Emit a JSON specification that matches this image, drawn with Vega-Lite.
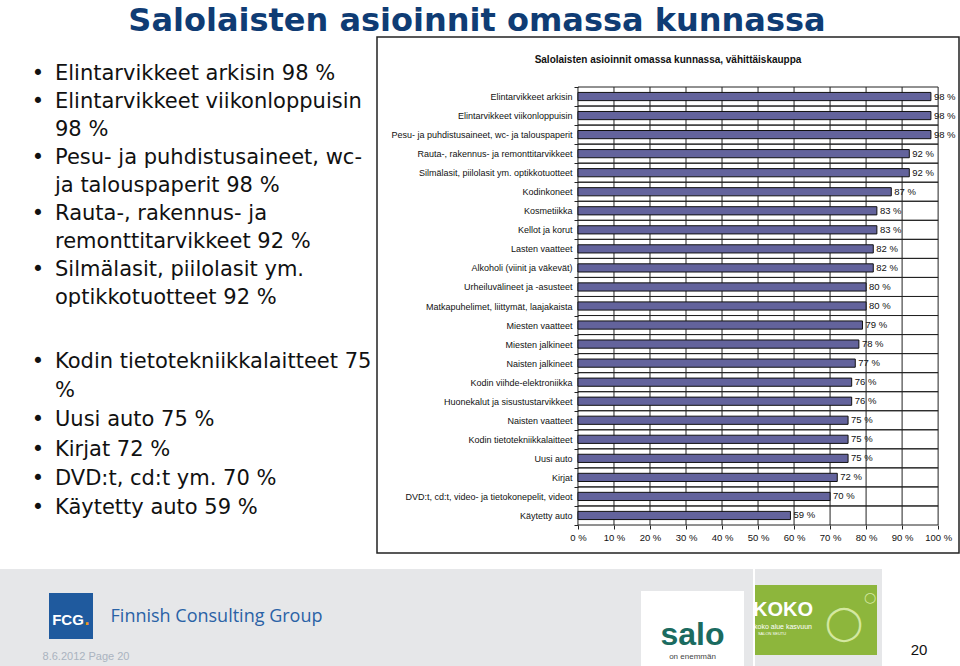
{
  "$schema": "https://vega.github.io/schema/vega-lite/v6.json",
  "padding": {"top": 5, "left": 0, "right": 0, "bottom": 0},
  "background": "white",
  "title": {"text": "Salolaisten asioinnit omassa kunnassa", "font": "DejaVu Sans", "fontSize": 32, "fontWeight": "bold", "color": "#0f3c74", "anchor": "middle", "dx": -4, "offset": -6},
  "config": {
    "view": {"stroke": null},
    "locale": {"number": {"decimal": ",", "thousands": " ", "grouping": [3], "currency": ["", " €"], "percent": " %"}}
  },
  "datasets": {
    "ostokset": [
      {"tuoteryhma": "Elintarvikkeet arkisin", "osuus": 0.98},
      {"tuoteryhma": "Elintarvikkeet viikonloppuisin", "osuus": 0.98},
      {"tuoteryhma": "Pesu- ja puhdistusaineet, wc- ja talouspaperit", "osuus": 0.98},
      {"tuoteryhma": "Rauta-, rakennus- ja remonttitarvikkeet", "osuus": 0.92},
      {"tuoteryhma": "Silmälasit, piilolasit ym. optikkotuotteet", "osuus": 0.92},
      {"tuoteryhma": "Kodinkoneet", "osuus": 0.87},
      {"tuoteryhma": "Kosmetiikka", "osuus": 0.83},
      {"tuoteryhma": "Kellot ja korut", "osuus": 0.83},
      {"tuoteryhma": "Lasten vaatteet", "osuus": 0.82},
      {"tuoteryhma": "Alkoholi (viinit ja väkevät)", "osuus": 0.82},
      {"tuoteryhma": "Urheiluvälineet ja -asusteet", "osuus": 0.80},
      {"tuoteryhma": "Matkapuhelimet, liittymät, laajakaista", "osuus": 0.80},
      {"tuoteryhma": "Miesten vaatteet", "osuus": 0.79},
      {"tuoteryhma": "Miesten jalkineet", "osuus": 0.78},
      {"tuoteryhma": "Naisten jalkineet", "osuus": 0.77},
      {"tuoteryhma": "Kodin viihde-elektroniikka", "osuus": 0.76},
      {"tuoteryhma": "Huonekalut ja sisustustarvikkeet", "osuus": 0.76},
      {"tuoteryhma": "Naisten vaatteet", "osuus": 0.75},
      {"tuoteryhma": "Kodin tietotekniikkalaitteet", "osuus": 0.75},
      {"tuoteryhma": "Uusi auto", "osuus": 0.75},
      {"tuoteryhma": "Kirjat", "osuus": 0.72},
      {"tuoteryhma": "DVD:t, cd:t, video- ja tietokonepelit, videot", "osuus": 0.70},
      {"tuoteryhma": "Käytetty auto", "osuus": 0.59}
    ],
    "ruudukko": [
      {"osuus": 0}, {"osuus": 0.1}, {"osuus": 0.2}, {"osuus": 0.3}, {"osuus": 0.4}, {"osuus": 0.5},
      {"osuus": 0.6}, {"osuus": 0.7}, {"osuus": 0.8}, {"osuus": 0.9}, {"osuus": 1}
    ]
  },
  "spacing": 15,
  "vconcat": [
    {
      "spacing": 0,
      "hconcat": [
        {
          "spacing": 0,
          "vconcat": [
            {
              "width": 376,
              "height": 270,
              "data": {"values": [
                {"rivi": "Elintarvikkeet arkisin 98 %", "luetelma": true},
                {"rivi": "Elintarvikkeet viikonloppuisin", "luetelma": true},
                {"rivi": "98 %", "luetelma": false},
                {"rivi": "Pesu- ja puhdistusaineet, wc-", "luetelma": true},
                {"rivi": "ja talouspaperit 98 %", "luetelma": false},
                {"rivi": "Rauta-, rakennus- ja", "luetelma": true},
                {"rivi": "remonttitarvikkeet 92 %", "luetelma": false},
                {"rivi": "Silmälasit, piilolasit ym.", "luetelma": true},
                {"rivi": "optikkotuotteet 92 %", "luetelma": false}
              ]},
              "layer": [
                {
                  "mark": {"type": "text", "align": "left", "baseline": "middle", "dx": -133, "font": "DejaVu Sans", "fontSize": 21, "color": "#111", "clip": true},
                  "encoding": {
                    "y": {"field": "rivi", "type": "nominal", "sort": null, "scale": {"type": "point", "padding": 0, "range": [37, 261]}, "axis": null},
                    "text": {"field": "rivi"}
                  }
                },
                {
                  "transform": [{"filter": "datum.luetelma"}],
                  "mark": {"type": "text", "text": "•", "align": "center", "baseline": "middle", "dx": -150, "font": "DejaVu Sans", "fontSize": 21, "color": "#111"},
                  "encoding": {
                    "y": {"field": "rivi", "type": "nominal", "sort": null}
                  }
                }
              ]
            },
            {
              "width": 376,
              "height": 246,
              "data": {"values": [
                {"rivi": "Kodin tietotekniikkalaitteet 75", "luetelma": true},
                {"rivi": "%", "luetelma": false},
                {"rivi": "Uusi auto 75 %", "luetelma": true},
                {"rivi": "Kirjat 72 %", "luetelma": true},
                {"rivi": "DVD:t, cd:t ym. 70 %", "luetelma": true},
                {"rivi": "Käytetty auto 59 %", "luetelma": true}
              ]},
              "layer": [
                {
                  "mark": {"type": "text", "align": "left", "baseline": "middle", "dx": -133, "font": "DejaVu Sans", "fontSize": 21, "color": "#111", "clip": true},
                  "encoding": {
                    "y": {"field": "rivi", "type": "nominal", "sort": null, "scale": {"type": "point", "padding": 0, "range": [55, 201]}, "axis": null},
                    "text": {"field": "rivi"}
                  }
                },
                {
                  "transform": [{"filter": "datum.luetelma"}],
                  "mark": {"type": "text", "text": "•", "align": "center", "baseline": "middle", "dx": -150, "font": "DejaVu Sans", "fontSize": 21, "color": "#111"},
                  "encoding": {
                    "y": {"field": "rivi", "type": "nominal", "sort": null}
                  }
                }
              ]
            }
          ]
        },
        {
          "width": 582,
          "height": 516,
          "view": {"stroke": "#222", "strokeWidth": 1.5},
          "title": {"text": "Salolaisten asioinnit omassa kunnassa, vähittäiskauppa", "font": "Liberation Sans", "fontSize": 10, "fontWeight": "bold", "color": "#111", "anchor": "middle", "offset": -32},
          "data": {"name": "ostokset"},
          "resolve": {"scale": {"y": "independent"}, "axis": {"y": "independent"}},
          "layer": [
            {
              "data": {"name": "ruudukko"},
              "mark": {"type": "rule", "color": "#222", "strokeWidth": 1},
              "encoding": {
                "x": {"field": "osuus", "type": "quantitative",
                  "scale": {"domain": [-0.558, 1.058], "nice": false, "zero": false},
                  "axis": {"orient": "bottom", "offset": -28, "values": [0, 0.1, 0.2, 0.3, 0.4, 0.5, 0.6, 0.7, 0.8, 0.9, 1], "format": ".0%", "domain": false, "grid": false, "ticks": true, "tickSize": 4, "tickColor": "#222", "labelFont": "Liberation Sans", "labelFontSize": 9.5, "labelColor": "#111", "labelPadding": 3, "labelFlush": false, "labelOverlap": false, "title": null}},
                "y": {"datum": 0, "type": "quantitative", "scale": {"domain": [0, 1], "range": [50, 488], "nice": false, "zero": false}, "axis": null},
                "y2": {"datum": 1}
              }
            },
            {
              "layer": [
                {
                  "mark": {"type": "rule", "color": "#222", "strokeWidth": 1},
                  "encoding": {
                    "y": {"field": "tuoteryhma", "type": "nominal", "sort": null, "bandPosition": 0,
                      "scale": {"type": "band", "paddingInner": 0, "paddingOuter": 0, "range": [50, 488]},
                      "axis": {"offset": -201, "tickBand": "extent", "domain": false, "grid": false, "ticks": true, "tickSize": 4, "tickColor": "#222", "labelFont": "Liberation Sans", "labelFontSize": 9, "labelColor": "#111", "labelPadding": 2, "labelLimit": 0, "title": null}},
                    "x": {"datum": 0},
                    "x2": {"datum": 1}
                  }
                },
                {
                  "mark": {"type": "rule", "color": "#222", "strokeWidth": 1},
                  "encoding": {
                    "y": {"field": "tuoteryhma", "type": "nominal", "sort": null, "bandPosition": 1},
                    "x": {"datum": 0},
                    "x2": {"datum": 1}
                  }
                },
                {
                  "mark": {"type": "bar", "orient": "horizontal", "height": {"band": 0.43}, "fill": "#63639c", "stroke": "#111", "strokeWidth": 1},
                  "encoding": {
                    "y": {"field": "tuoteryhma", "type": "nominal", "sort": null},
                    "x": {"field": "osuus", "type": "quantitative"},
                    "x2": {"datum": 0}
                  }
                },
                {
                  "mark": {"type": "text", "align": "left", "baseline": "middle", "dx": 3, "font": "Liberation Sans", "fontSize": 9.5, "color": "#111"},
                  "encoding": {
                    "y": {"field": "tuoteryhma", "type": "nominal", "sort": null},
                    "x": {"field": "osuus", "type": "quantitative"},
                    "text": {"field": "osuus", "type": "quantitative", "format": ".0%"}
                  }
                }
              ]
            }
          ]
        }
      ]
    },
    {
      "spacing": 0,
      "hconcat": [
        {
          "spacing": 0,
          "vconcat": [
            {"width": 641, "height": 24, "view": {"fill": "#e6e7e9"}, "data": {"values": [{"t": ""}]}, "mark": "text", "encoding": {"text": {"field": "t"}}},
            {
              "spacing": 0,
              "hconcat": [
                {"width": 49, "height": 46, "view": {"fill": "#e6e7e9"}, "data": {"values": [{"t": ""}]}, "mark": "text", "encoding": {"text": {"field": "t"}}},
                {"width": 44, "height": 46, "view": {"fill": "#1f5a9e"}, "data": {"values": [{"t": "FCG", "piste": "."}]},
                  "layer": [
                    {"mark": {"type": "text", "font": "Liberation Sans", "fontSize": 15, "fontWeight": "bold", "color": "white", "dx": -3, "dy": 4}, "encoding": {"text": {"field": "t"}}},
                    {"mark": {"type": "text", "font": "Liberation Sans", "fontSize": 18, "fontWeight": "bold", "color": "#f29a1f", "dx": 16, "dy": 4}, "encoding": {"text": {"field": "piste"}}}
                  ]},
                {"width": 247, "height": 46, "view": {"fill": "#e6e7e9"}, "data": {"values": [{"t": "Finnish Consulting Group"}]}, "mark": {"type": "text", "font": "Open Sans", "fontSize": 18, "color": "#2a62a6", "dy": 1}, "encoding": {"text": {"field": "t"}}},
                {"width": 301, "height": 46, "view": {"fill": "#e6e7e9"}, "data": {"values": [{"t": ""}]}, "mark": "text", "encoding": {"text": {"field": "t"}}}
              ]
            },
            {
              "spacing": 0,
              "hconcat": [
                {"width": 172, "height": 28, "view": {"fill": "#e6e7e9"}, "data": {"values": [{"t": "8.6.2012  Page 20"}]}, "mark": {"type": "text", "font": "Liberation Sans", "fontSize": 11, "color": "#aab3c0", "dy": 4}, "encoding": {"text": {"field": "t"}}},
                {"width": 469, "height": 28, "view": {"fill": "#e6e7e9"}, "data": {"values": [{"t": ""}]}, "mark": "text", "encoding": {"text": {"field": "t"}}}
              ]
            }
          ]
        },
        {
          "spacing": 0,
          "vconcat": [
            {"width": 103, "height": 22, "view": {"fill": "#e6e7e9"}, "data": {"values": [{"t": ""}]}, "mark": "text", "encoding": {"text": {"field": "t"}}},
            {"width": 103, "height": 76, "view": {"fill": "white"}, "data": {"values": [{"t": "salo", "u": "on enemmän"}]},
              "layer": [
                {"mark": {"type": "text", "font": "Liberation Sans", "fontSize": 32, "fontWeight": "bold", "color": "#1b6b60", "dy": 6}, "encoding": {"text": {"field": "t"}}},
                {"mark": {"type": "text", "font": "Liberation Sans", "fontSize": 8, "color": "#444", "dy": 28}, "encoding": {"text": {"field": "u"}}}
              ]}
          ]
        },
        {"width": 9, "height": 98, "view": {"fill": "#e6e7e9"}, "data": {"values": [{"t": ""}]}, "mark": "text", "encoding": {"text": {"field": "t"}}},
        {
          "spacing": 0,
          "vconcat": [
            {"width": 122, "height": 16, "view": {"fill": "#e6e7e9"}, "data": {"values": [{"t": ""}]}, "mark": "text", "encoding": {"text": {"field": "t"}}},
            {"width": 122, "height": 70, "view": {"fill": "#8db63c"}, "data": {"values": [{"t": "KOKO", "u": "koko alue kasvuun", "v": "SALON SEUTU", "k": "◯", "p": "○"}]},
              "layer": [
                {"mark": {"type": "text", "font": "DejaVu Sans", "fontSize": 34, "color": "#d4e8a0", "dx": 28, "dy": 4}, "encoding": {"text": {"field": "k"}}},
                {"mark": {"type": "text", "font": "DejaVu Sans", "fontSize": 14, "color": "#d4e8a0", "dx": 54, "dy": -22}, "encoding": {"text": {"field": "p"}}},
                {"mark": {"type": "text", "font": "Liberation Sans", "fontSize": 20, "fontWeight": "bold", "color": "white", "dx": -33, "dy": -10}, "encoding": {"text": {"field": "t"}}},
                {"mark": {"type": "text", "font": "Liberation Sans", "fontSize": 7, "color": "white", "dx": -33, "dy": 7}, "encoding": {"text": {"field": "u"}}},
                {"mark": {"type": "text", "font": "Liberation Sans", "fontSize": 4, "color": "white", "dx": -44, "dy": 14}, "encoding": {"text": {"field": "v"}}}
              ]},
            {"width": 122, "height": 12, "view": {"fill": "#e6e7e9"}, "data": {"values": [{"t": ""}]}, "mark": "text", "encoding": {"text": {"field": "t"}}}
          ]
        },
        {"width": 5, "height": 98, "view": {"fill": "#e6e7e9"}, "data": {"values": [{"t": ""}]}, "mark": "text", "encoding": {"text": {"field": "t"}}},
        {"width": 80, "height": 98, "view": {"fill": "white"}, "data": {"values": [{"t": "20"}]}, "mark": {"type": "text", "font": "Liberation Sans", "fontSize": 15, "color": "#111", "dx": -3, "dy": 32}, "encoding": {"text": {"field": "t"}}}
      ]
    }
  ]
}
